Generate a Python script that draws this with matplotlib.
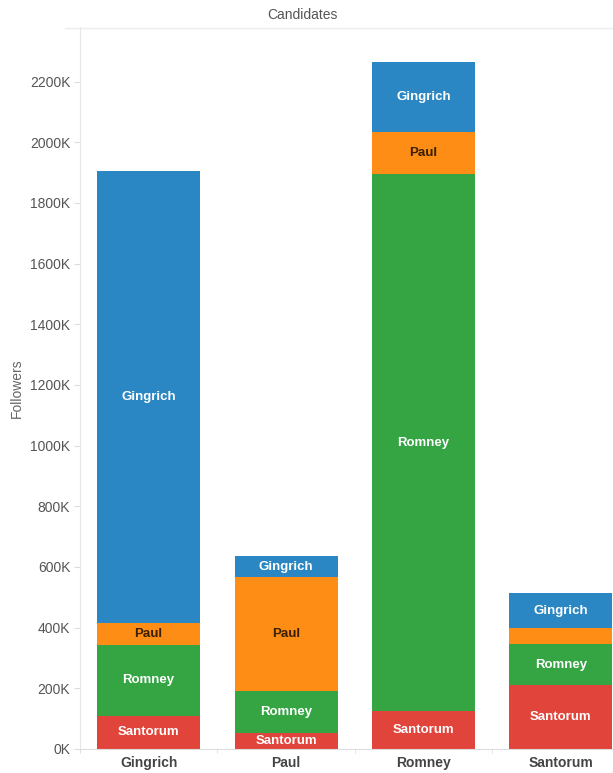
import numpy as np
import matplotlib
matplotlib.use("Agg")
import matplotlib.pyplot as plt
from matplotlib.lines import Line2D

plt.rcParams['font.family'] = ['Liberation Sans', 'DejaVu Sans']

# data (thousands of followers)
categories = ['Gingrich', 'Paul', 'Romney', 'Santorum']
santorum = [109, 53, 125, 211]
romney = [234, 138, 1770, 135]
paul = [72, 376, 138, 53]
gingrich = [1489, 69, 231, 115]

series = ['Santorum', 'Romney', 'Paul', 'Gingrich']
values = [santorum, romney, paul, gingrich]
colors = ['#e0443a', '#35a543', '#fd8d14', '#2a87c4']
text_colors = ['white', 'white', '#3a2000', 'white']
# segments left unlabelled (too thin)
skip = [('Santorum', 'Paul')]

fig = plt.figure(figsize=(6.13, 7.73), dpi=100)
ax = fig.add_axes([80 / 613, 24 / 773, 1 - 80 / 613, (749 - 27) / 773])

x = np.arange(len(categories))
bottom = np.zeros(len(categories))
for name, vals, col, tcol in zip(series, values, colors, text_colors):
    vals = np.array(vals, dtype=float)
    ax.bar(x, vals, width=0.75, bottom=bottom, color=col, edgecolor='none')
    for i, v in enumerate(vals):
        if (categories[i], name) in skip:
            continue
        ax.text(x[i], bottom[i] + v / 2, name, ha='center', va='center',
                color=tcol, fontsize=9.5, fontweight='bold')
    bottom += vals

ax.set_xlim(-0.49, 3.38)
ax.set_ylim(0, 2380)
yt = np.arange(0, 2201, 200)
ax.set_yticks(yt)
ax.set_yticklabels([f'{v}K' for v in yt], fontsize=10, color='#555555')
ax.set_xticks(x)
ax.set_xticklabels(categories, fontsize=10, fontweight='bold', color='#444444')
ax.set_xticks([-0.5, 0.5, 1.5, 2.5], minor=True)
ax.tick_params(axis='x', which='major', length=0, pad=5)
ax.tick_params(axis='x', which='minor', length=3, color='#dddddd')
ax.tick_params(axis='y', length=4, color='#dddddd', pad=3)

for s in ['top', 'right']:
    ax.spines[s].set_visible(False)
ax.spines['left'].set_color('#e6e6e6')
ax.spines['bottom'].set_color('#dddddd')

ax.set_ylabel('Followers', fontsize=10, color='#666666', labelpad=4)

fig.text(302 / 613, 1 - 15 / 773, 'Candidates', ha='center', va='center',
         fontsize=10, color='#555555')
fig.add_artist(Line2D([65 / 613, 1], [1 - 28 / 773, 1 - 28 / 773],
                      color='#ececec', lw=1))

fig.savefig('out.png', dpi=100)
